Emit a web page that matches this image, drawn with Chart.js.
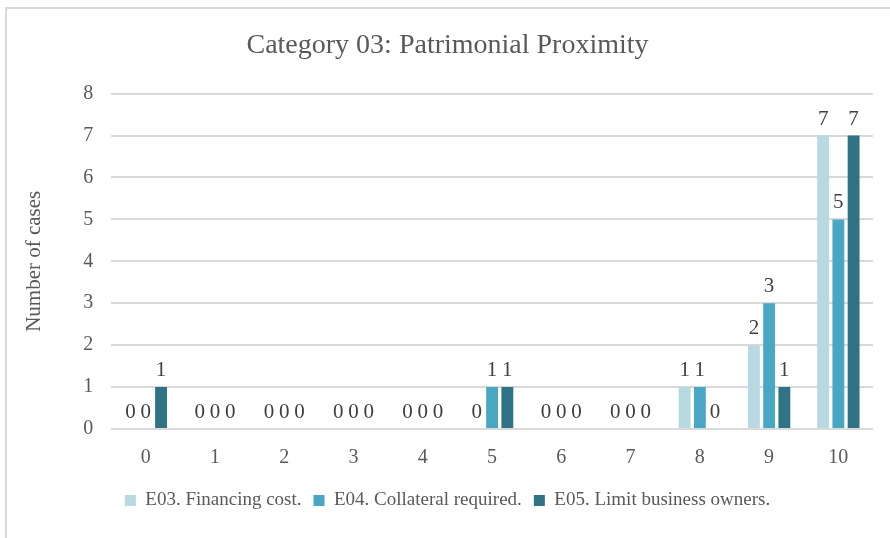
<!DOCTYPE html>
<html>
<head>
<meta charset="utf-8">
<script src="https://cdn.jsdelivr.net/npm/chart.js@4"></script>
<style>
  html, body { margin: 0; padding: 0; background: #fff; }
  #wrap { position: absolute; left: 0; top: 0; width: 890px; height: 538px; }
  #frame { position: absolute; left: 5px; top: 7px; width: 900px; height: 560px;
           border-left: 2px solid #d9d9d9; border-top: 2px solid #d9d9d9; }
</style>
</head>
<body>
<div id="wrap">
  <div id="frame"></div>
  <canvas id="barChart" width="890" height="538"></canvas>
</div>
<script>
var categories = ["0", "1", "2", "3", "4", "5", "6", "7", "8", "9", "10"];
var e03 = [0, 0, 0, 0, 0, 0, 0, 0, 1, 2, 7];
var e04 = [0, 0, 0, 0, 0, 1, 0, 0, 1, 3, 5];
var e05 = [1, 0, 0, 0, 0, 1, 0, 0, 0, 1, 7];
var seriesNames = ["E03. Financing cost.", "E04. Collateral required.", "E05. Limit business owners."];

var serif = "'Liberation Serif', 'Times New Roman', serif";

// simple value labels above each bar
var valueLabels = {
  id: "valueLabels",
  afterDatasetsDraw: function (chart) {
    var c = chart.ctx;
    c.save();
    c.font = "21px " + serif;
    c.fillStyle = "#404040";
    c.textAlign = "center";
    c.textBaseline = "bottom";
    chart.data.datasets.forEach(function (ds, i) {
      chart.getDatasetMeta(i).data.forEach(function (bar, j) {
        c.fillText(String(ds.data[j]), bar.x, bar.y - 6);
      });
    });
    c.restore();
  }
};

var ctx = document.getElementById("barChart").getContext("2d");
var myChart = new Chart(ctx, {
  type: "bar",
  data: {
    labels: categories,
    datasets: [
      {
        label: seriesNames[0],
        data: e03,
        backgroundColor: "#b8d8e2",
      },
      {
        label: seriesNames[1],
        data: e04,
        backgroundColor: "#4aa7c3",
      },
      {
        label: seriesNames[2],
        data: e05,
        backgroundColor: "#307384",
      },
    ],
  },
  options: {
    responsive: false,
    animation: false,
    categoryPercentage: 0.66,
    barPercentage: 0.78,
    layout: { padding: { left: 22, right: 17, top: 25, bottom: 18 } },
    plugins: {
      title: {
        display: true,
        text: "Category 03: Patrimonial Proximity",
        color: "#595959",
        font: { family: serif, size: 28, weight: "normal" },
        padding: { top: 4, bottom: 31 },
      },
      legend: {
        position: "bottom",
        labels: {
          color: "#595959",
          font: { family: serif, size: 19 },
          boxWidth: 11,
          boxHeight: 11,
          padding: 12,
        },
      },
      tooltip: { enabled: false },
    },
    scales: {
      x: {
        grid: { display: false },
        border: { display: false },
        ticks: { color: "#595959", font: { family: serif, size: 20 }, padding: 9 },
      },
      y: {
        min: 0,
        max: 8,
        ticks: { stepSize: 1, color: "#595959", font: { family: serif, size: 20 }, padding: 18 },
        grid: { color: "#d9d9d9", lineWidth: 2, drawTicks: false },
        border: { display: false },
        title: {
          display: true,
          text: "Number of cases",
          color: "#595959",
          font: { family: serif, size: 21 },
          padding: { top: 0, bottom: 18 },
        },
      },
    },
  },
  plugins: [valueLabels],
});
</script>
</body>
</html>
